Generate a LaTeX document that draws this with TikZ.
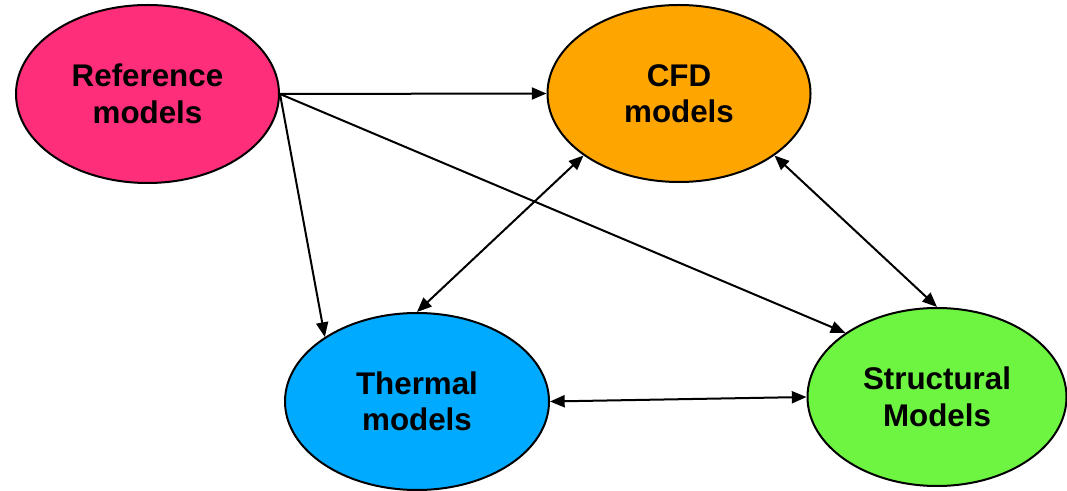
\documentclass[tikz,border=0pt]{standalone}
\usepackage{fontspec}
\setmainfont{Liberation Sans}
\usetikzlibrary{shapes.geometric,arrows.meta}
\definecolor{refpink}{HTML}{FF2E7A}
\definecolor{cfdorange}{HTML}{FFA500}
\definecolor{thermblue}{HTML}{00AAFF}
\definecolor{structgreen}{HTML}{6EF542}
\tikzset{
  model/.style={ellipse, draw=black, line width=1.5pt, inner sep=0pt,
    align=center, font=\fontsize{23.5}{27.4}\selectfont\bfseries},
  link/.style={line width=1.5pt, -{Triangle[length=11pt,width=9pt]}},
  duallink/.style={line width=1.5pt, {Triangle[length=11pt,width=9pt]}-{Triangle[length=11pt,width=9pt]}}
}
\begin{document}
\begin{tikzpicture}[x=0.75pt, y=-0.75pt]
\useasboundingbox (0,0) rectangle (1067,491);
\node[model, fill=refpink, minimum width=263*0.75pt, minimum height=178*0.75pt] (ref) at (147.5,94) {Reference\\models};
\node[model, fill=cfdorange, minimum width=263*0.75pt, minimum height=177*0.75pt] (cfd) at (679,93.5) {CFD\\models};
\node[model, fill=thermblue, minimum width=264*0.75pt, minimum height=177*0.75pt] (th) at (417,401.5) {Thermal\\models};
\node[model, fill=structgreen, minimum width=259*0.75pt, minimum height=178*0.75pt] (st) at (937,397) {Structural\\Models};
\coordinate (src) at (ref.east);
\draw[link] (src) -- (cfd.west);
\draw[link] (src) -- (th.145);
\draw[link] (src) -- (st.145);
\draw[duallink] (cfd.213) -- (th.north);
\draw[duallink] (cfd.327) -- (st.north);
\draw[duallink] (th.east) -- (st.west);
\end{tikzpicture}
\end{document}
